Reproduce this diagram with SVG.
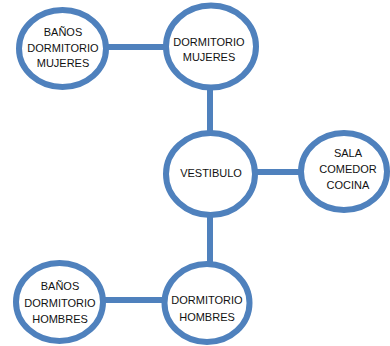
<svg xmlns="http://www.w3.org/2000/svg" width="390" height="346" viewBox="0 0 390 346">
<style>
.n{fill:#fff;stroke:#4f81bd;stroke-width:6}
.c{stroke:#4f81bd;stroke-width:6;fill:none}
text{font-family:"Liberation Sans",Arial,sans-serif;font-size:11px;fill:#111;text-anchor:middle}
</style>
<rect width="390" height="346" fill="#fff"/>
<g id="connectors">
<line class="c" x1="106" y1="47" x2="166" y2="47"/>
<line class="c" x1="210" y1="88" x2="210" y2="133"/>
<line class="c" x1="255" y1="172" x2="301" y2="172"/>
<line class="c" x1="210" y1="215" x2="210" y2="265"/>
<line class="c" x1="103" y1="300" x2="166" y2="300"/>
</g>
<g id="banos-mujeres">
<ellipse class="n" cx="62.5" cy="48.5" rx="43.5" ry="38.5"/>
<text x="63" y="36">BAÑOS</text>
<text x="63" y="51.5">DORMITORIO</text>
<text x="63" y="67">MUJERES</text>
</g>
<g id="dormitorio-mujeres">
<ellipse class="n" cx="211" cy="46.5" rx="45" ry="41"/>
<text x="209" y="45.5">DORMITORIO</text>
<text x="209" y="61">MUJERES</text>
</g>
<g id="vestibulo">
<ellipse class="n" cx="210.5" cy="174" rx="44.5" ry="41"/>
<text x="211" y="176.5">VESTIBULO</text>
</g>
<g id="sala">
<ellipse class="n" cx="344" cy="171.5" rx="43" ry="38.5"/>
<text x="348" y="157">SALA</text>
<text x="348" y="173">COMEDOR</text>
<text x="348" y="189">COCINA</text>
</g>
<g id="banos-hombres">
<ellipse class="n" cx="59.5" cy="302" rx="43.5" ry="39"/>
<text x="60" y="290">BAÑOS</text>
<text x="60" y="306.5">DORMITORIO</text>
<text x="60" y="323">HOMBRES</text>
</g>
<g id="dormitorio-hombres">
<ellipse class="n" cx="207" cy="303" rx="42.5" ry="39"/>
<text x="207" y="304">DORMITORIO</text>
<text x="207" y="321">HOMBRES</text>
</g>
</svg>
